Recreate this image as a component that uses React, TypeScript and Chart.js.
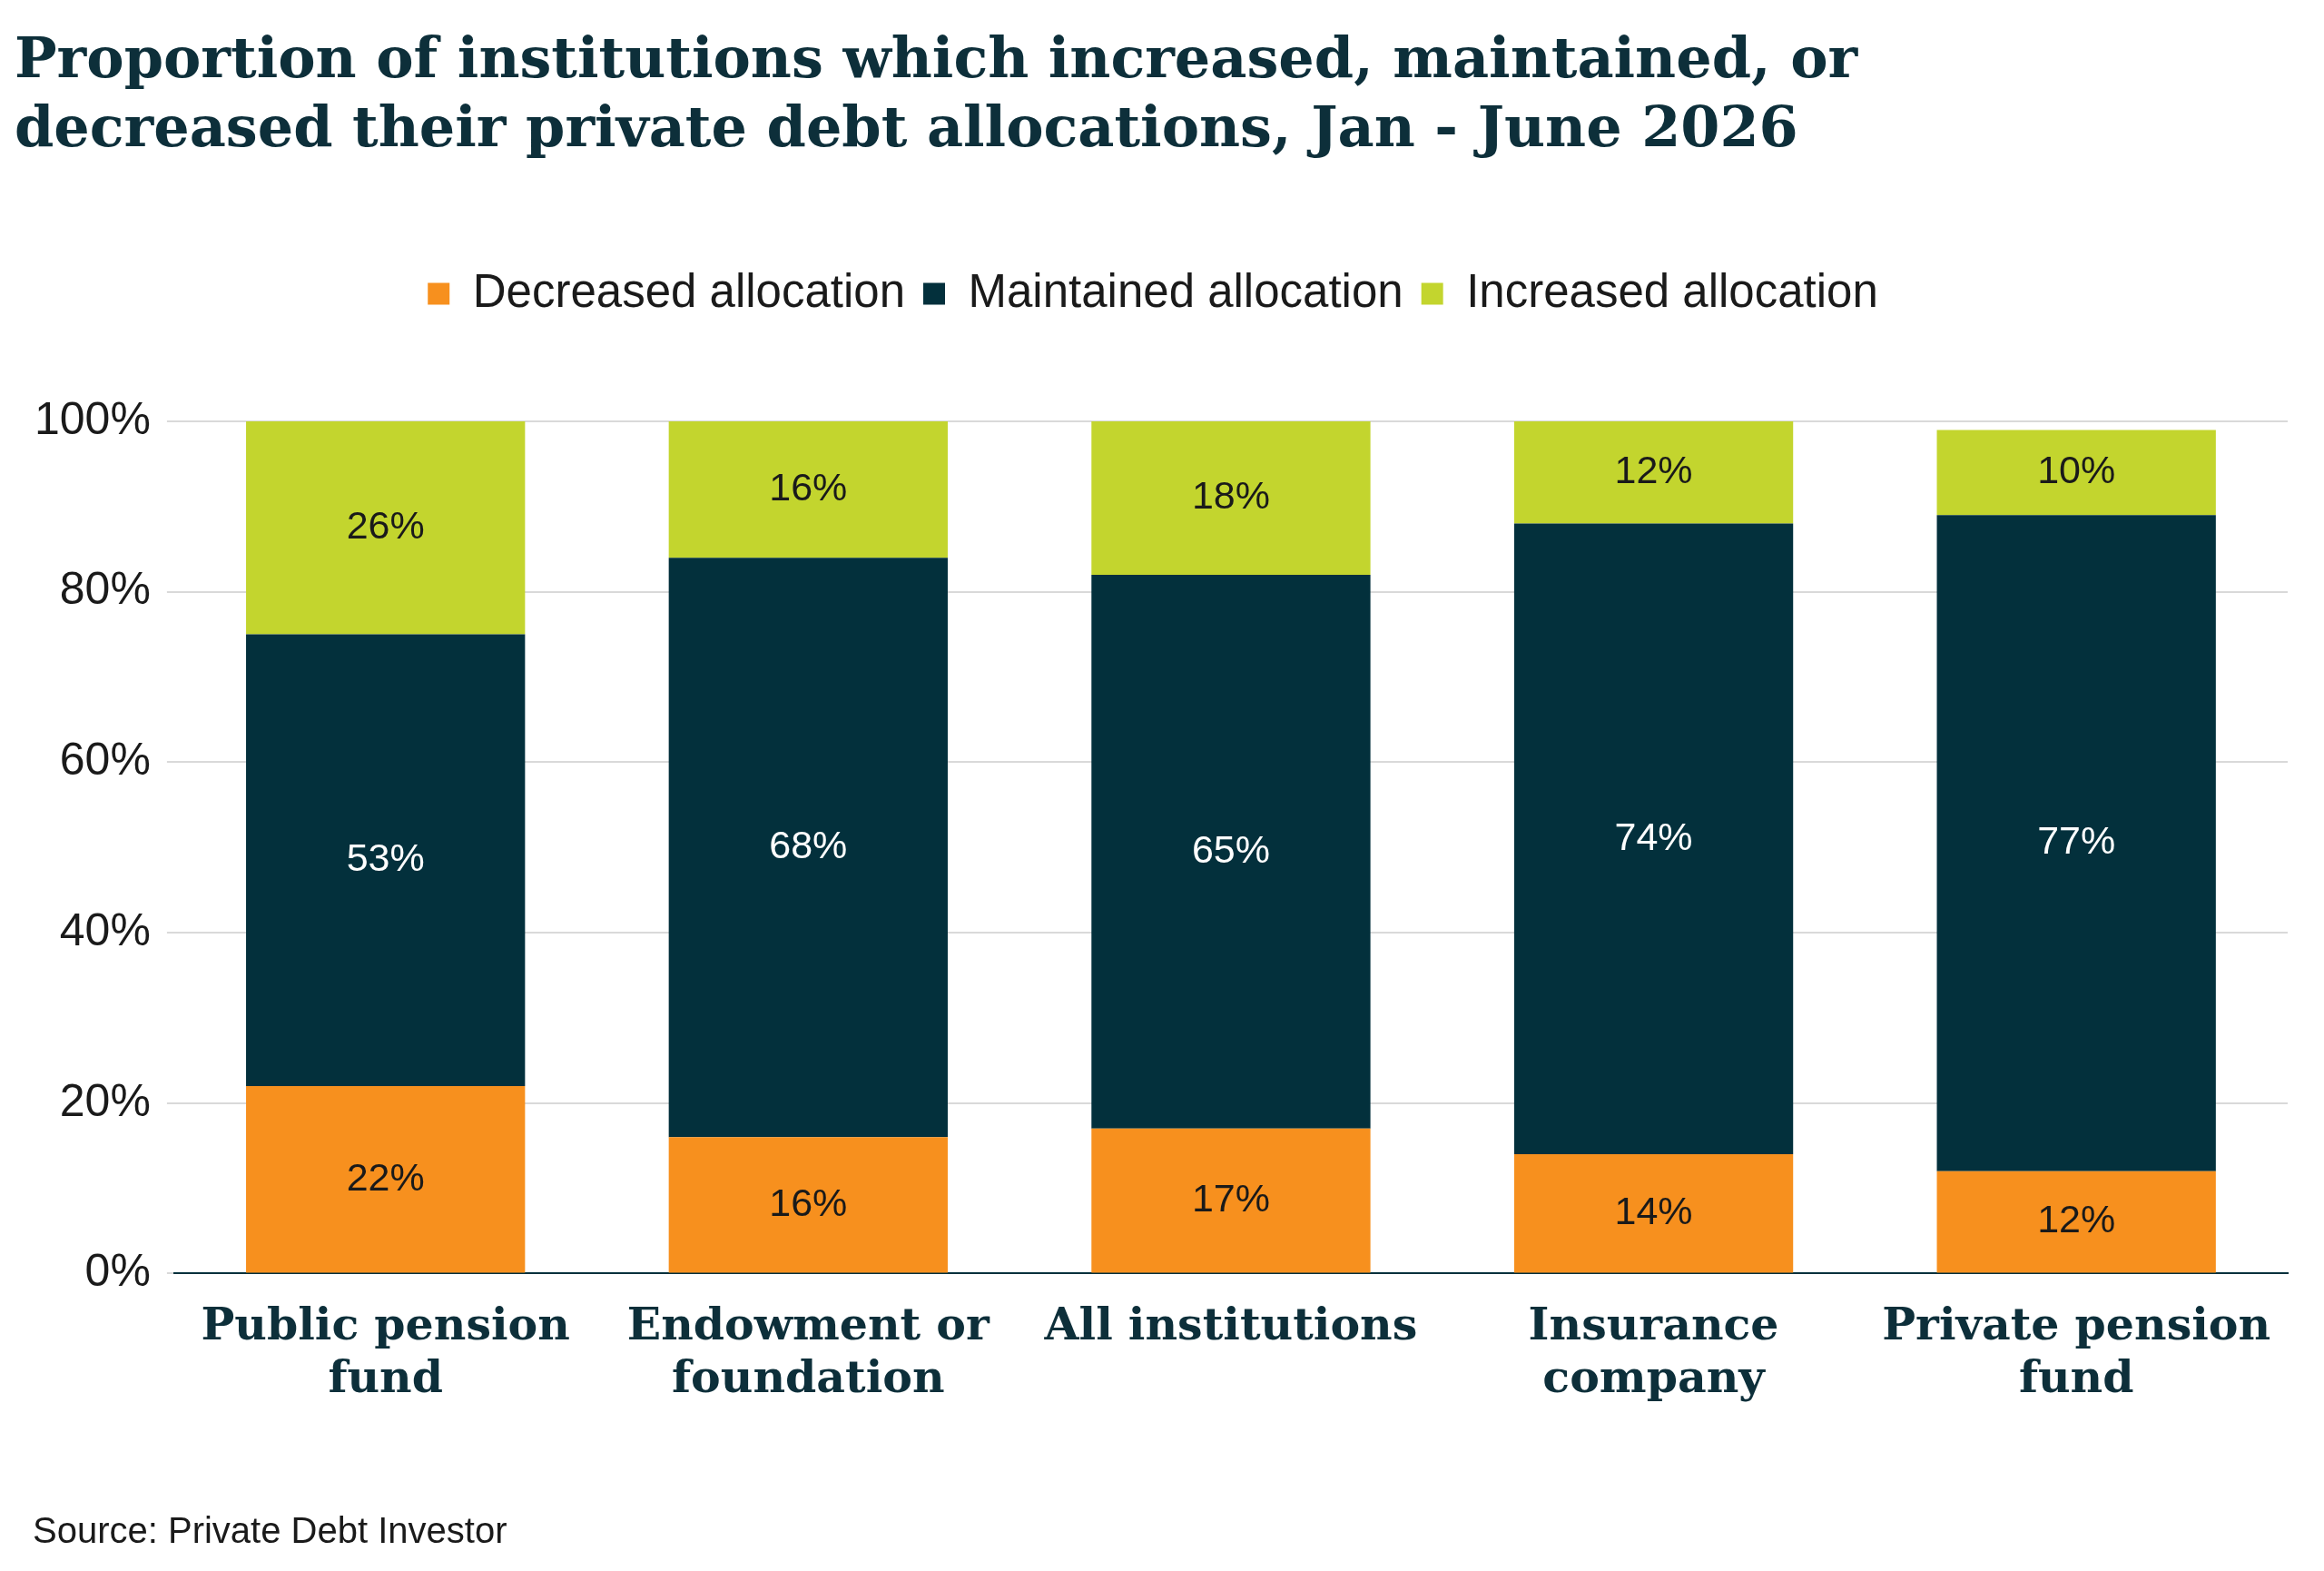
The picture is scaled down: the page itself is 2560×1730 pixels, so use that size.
import React, { useEffect, useRef } from "react";
import { Chart, registerables } from "chart.js";
Chart.register(...registerables);

const categories = [["Public pension", "fund"], ["Endowment or", "foundation"], ["All institutions"], ["Insurance", "company"], ["Private pension", "fund"]];
const decreased = [22, 16, 17, 14, 12];
const maintained = [53, 68, 65, 74, 77];
const increased = [26, 16, 18, 12, 10];
const yTicks = [0, 20, 40, 60, 80, 100];

const labelPlugin = {
  id: "barLabels",
  afterDatasetsDraw(chart: any) {
    const ctx = chart.ctx;
    ctx.save();
    ctx.font = "43px Arial, 'Liberation Sans', sans-serif";
    ctx.textAlign = "center";
    ctx.textBaseline = "middle";
    chart.data.datasets.forEach((ds: any, i: number) => {
      const meta = chart.getDatasetMeta(i);
      meta.data.forEach((bar: any, j: number) => {
        const top = Math.max(bar.y, chart.chartArea.top);
        const y = (top + bar.base) / 2;
        ctx.fillStyle = i === 1 ? "#ffffff" : "#1a1a1a";
        ctx.fillText(ds.data[j] + "%", bar.x, y);
      });
    });
    ctx.restore();
  },
};

const legendSpacing = {
  id: "legendSpacing",
  beforeInit(chart: any) {
    const orig = chart.legend.fit;
    chart.legend.fit = function () {
      orig.bind(chart.legend)();
      this.height += 105;
    };
  },
};

export default function App() {
  const ref = useRef<HTMLCanvasElement>(null);
  useEffect(() => {
    const chart = new Chart(ref.current!, {
      type: "bar",
      data: {
        labels: categories as any,
        datasets: [
          { label: "Decreased allocation", data: decreased, backgroundColor: "#F7901E" },
          { label: "Maintained allocation", data: maintained, backgroundColor: "#03303C" },
          { label: "Increased allocation", data: increased, backgroundColor: "#C3D52E" },
        ],
      },
      options: {
        animation: false,
        responsive: false,
        devicePixelRatio: 1,
        layout: { padding: { top: 270, left: 12, right: 32, bottom: 150 } },
        datasets: { bar: { barPercentage: 0.66, categoryPercentage: 1 } },
        plugins: {
          legend: {
            position: "top",
            labels: { boxWidth: 24, boxHeight: 24, padding: 20, color: "#1a1a1a", font: { size: 51, family: "Arial, 'Liberation Sans', sans-serif" } },
          },
          tooltip: { enabled: false },
        },
        scales: {
          x: {
            stacked: true,
            grid: { display: false },
            border: { color: "#03303C", width: 2 },
            ticks: { color: "#0d2f3a", font: { size: 49, weight: "bold", family: "'DejaVu Serif', serif" }, padding: 22 },
          },
          y: {
            stacked: true,
            min: 0,
            max: 100,
            afterBuildTicks: (s: any) => { s.ticks = yTicks.map((v) => ({ value: v })); },
            grid: { color: "#d9d9d9", lineWidth: 2 },
            border: { display: false },
            ticks: { color: "#1a1a1a", font: { size: 50, family: "Arial, 'Liberation Sans', sans-serif" }, callback: (v: any) => v + "%", padding: 18 },
          },
        },
      },
      plugins: [labelPlugin, legendSpacing],
    });
    return () => chart.destroy();
  }, []);
  return (
    <div style={{ position: "relative", width: 2544, height: 1714, background: "#fff" }}>
      <canvas ref={ref} width={2544} height={1714} style={{ position: "absolute", left: 0, top: 0 }} />
      <div style={{ position: "absolute", left: 8, top: 18, font: "bold 62px 'DejaVu Serif', serif", color: "#0d2f3a", lineHeight: "76px" }}>
        Proportion of institutions which increased, maintained, or<br />decreased their private debt allocations, Jan - June 2026
      </div>
      <div style={{ position: "absolute", left: 28, top: 1655, font: "40px Arial, 'Liberation Sans', sans-serif", color: "#1a1a1a" }}>
        Source: Private Debt Investor
      </div>
    </div>
  );
}
